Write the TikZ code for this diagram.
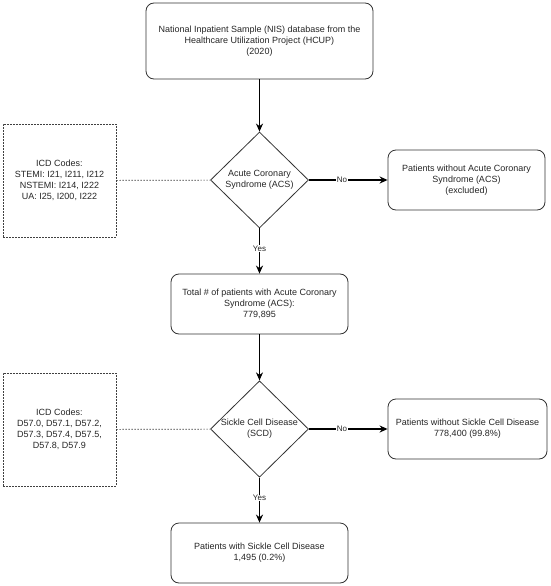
\documentclass[tikz,border=0pt]{standalone}
\usepackage{fontspec}
\setmainfont{Liberation Sans}
\usetikzlibrary{shapes.geometric,arrows.meta}
\begin{document}
\begin{tikzpicture}[x=1pt,y=-1pt,
  txt/.style={align=center, font=\fontsize{9}{11}\selectfont, text=black!85},
  box/.style={txt, draw=black!80, line width=0.8pt, rounded corners=8pt, inner sep=0pt},
  dbox/.style={txt, draw=black!75, line width=0.7pt, dash pattern=on 1.6pt off 1.4pt, inner sep=0pt},
  dec/.style={txt, draw=black!80, line width=0.8pt, diamond, aspect=1, inner sep=0pt, minimum width=98pt, minimum height=96pt},
  arr/.style={draw=black, line width=1.6pt, -{Stealth[length=8pt,width=7pt]}},
  dline/.style={draw=black!75, line width=0.7pt, dash pattern=on 1.6pt off 1.4pt},
  lab/.style={txt, fill=white, inner sep=0.5pt, font=\fontsize{8}{9}\selectfont}]
\useasboundingbox (0,0) rectangle (550,586);
\fill[white] (0,0) rectangle (550,586);

\node[box, minimum width=227pt, minimum height=76pt] (src) at (259.5,41)
  {National Inpatient Sample (NIS) database from the\\Healthcare Utilization Project (HCUP)\\(2020)};
\node[dec] (acs) at (259.5,180) {Acute Coronary\\Syndrome (ACS)};
\node[dbox, minimum width=113pt, minimum height=113pt] (icd1) at (59.5,180.5)
  {ICD Codes:\\STEMI: I21, I211, I212\\NSTEMI: I214, I222\\UA: I25, I200, I222};
\node[box, minimum width=157pt, minimum height=60pt] (noacs) at (466.5,180)
  {Patients without Acute Coronary\\Syndrome (ACS)\\(excluded)};
\node[box, minimum width=177pt, minimum height=60pt] (total) at (259.5,304)
  {Total \# of patients with Acute Coronary\\Syndrome (ACS):\\779,895};
\node[dec] (scd) at (259.5,429) {Sickle Cell Disease\\(SCD)};
\node[dbox, minimum width=113pt, minimum height=113pt] (icd2) at (59.5,429.5)
  {ICD Codes:\\D57.0, D57.1, D57.2,\\D57.3, D57.4, D57.5,\\D57.8, D57.9};
\node[box, minimum width=159pt, minimum height=60pt] (noscd) at (467.5,429)
  {Patients without Sickle Cell Disease\\778,400 (99.8\%)};
\node[box, minimum width=177pt, minimum height=60pt] (withscd) at (259.5,553)
  {Patients with Sickle Cell Disease\\1,495 (0.2\%)};

\draw[arr] (src) -- (acs);
\draw[dline] (icd1) -- (acs);
\draw[arr] (acs) -- node[lab, pos=0.42]{No} (noacs);
\draw[arr] (acs) -- node[lab, pos=0.45]{Yes} (total);
\draw[arr] (total) -- (scd);
\draw[dline] (icd2) -- (scd);
\draw[arr] (scd) -- node[lab, pos=0.42]{No} (noscd);
\draw[arr] (scd) -- node[lab, pos=0.45]{Yes} (withscd);
\end{tikzpicture}
\end{document}
